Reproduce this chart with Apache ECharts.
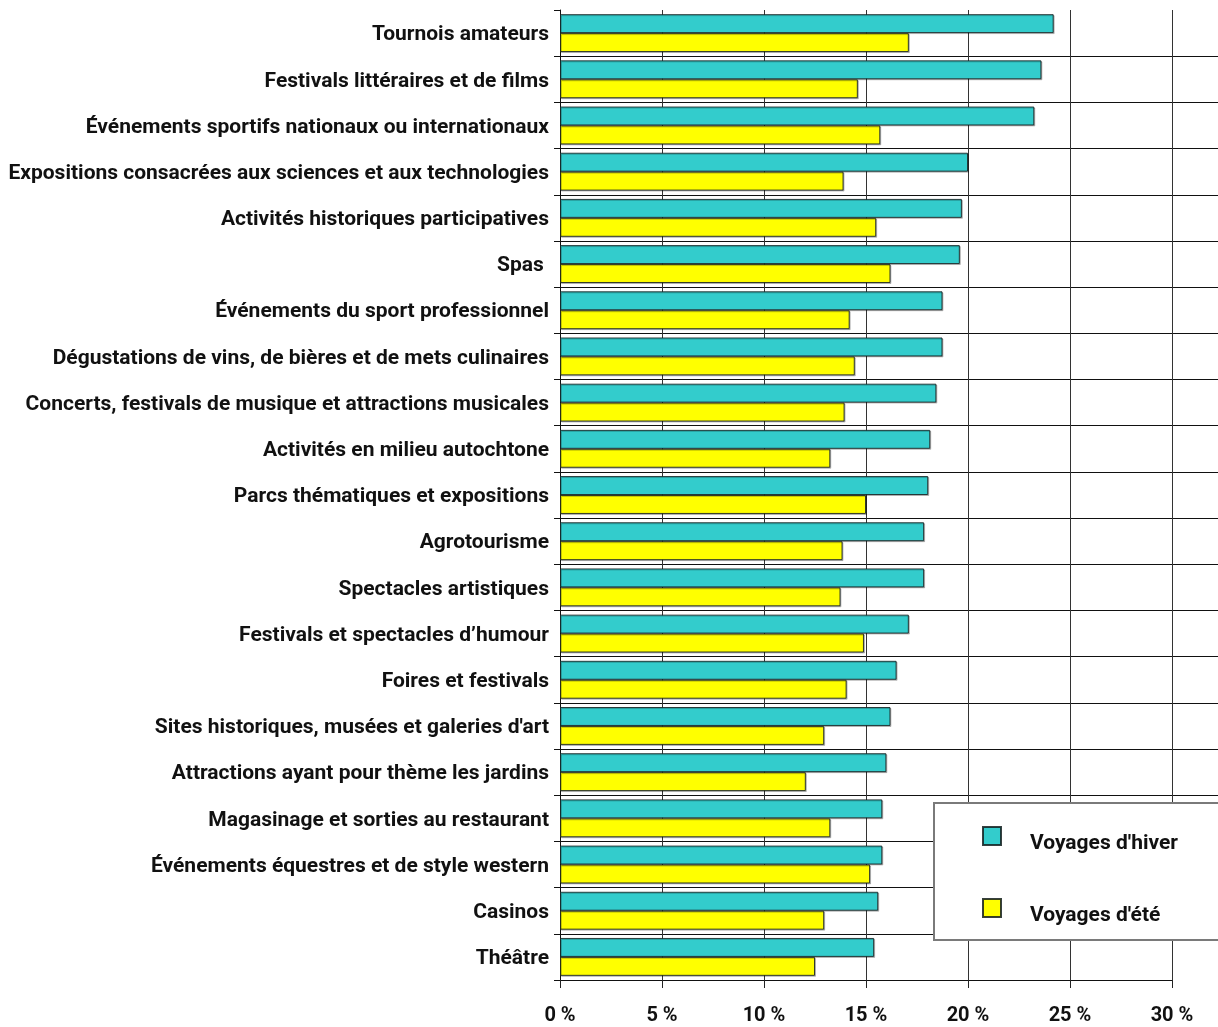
<!DOCTYPE html>
<html>
<head>
<meta charset="utf-8">
<script src="https://cdn.jsdelivr.net/npm/echarts@6/dist/echarts.min.js"></script>
<style>
  html, body { margin: 0; padding: 0; background: #fff; }
  #chart { width: 1218px; height: 1027px; }
</style>
</head>
<body>
<div id="chart"></div>
<script>
// Activity categories, listed top to bottom
const categories = [
  "Tournois amateurs",
  "Festivals littéraires et de films",
  "Événements sportifs nationaux ou internationaux",
  "Expositions consacrées aux sciences et aux technologies",
  "Activités historiques participatives",
  "Spas ",
  "Événements du sport professionnel",
  "Dégustations de vins, de bières et de mets culinaires",
  "Concerts, festivals de musique et attractions musicales",
  "Activités en milieu autochtone",
  "Parcs thématiques et expositions",
  "Agrotourisme",
  "Spectacles artistiques",
  "Festivals et spectacles d’humour",
  "Foires et festivals",
  "Sites historiques, musées et galeries d'art",
  "Attractions ayant pour thème les jardins",
  "Magasinage et sorties au restaurant",
  "Événements équestres et de style western",
  "Casinos",
  "Théâtre"
];

// Share of travellers (%)
const winterTrips = [24.2, 23.6, 23.25, 20.0, 19.7, 19.6, 18.75, 18.75, 18.45, 18.15, 18.05, 17.85, 17.85, 17.1, 16.5, 16.2, 16.0, 15.8, 15.8, 15.6, 15.4];
const summerTrips = [17.1, 14.6, 15.7, 13.9, 15.5, 16.2, 14.2, 14.45, 13.95, 13.25, 15.0, 13.85, 13.75, 14.9, 14.05, 12.95, 12.05, 13.25, 15.2, 12.95, 12.5];

const seriesNames = ["Voyages d'hiver", "Voyages d'été"];
const axisTicks = [0, 5, 10, 15, 20, 25, 30];

const FONT = 'Roboto, "Liberation Sans", sans-serif';

const chart = echarts.init(document.getElementById('chart'), null, { renderer: 'canvas' });

const barStyle = (color) => ({
  color: color,
  borderColor: 'rgba(20,30,30,0.85)',
  borderWidth: 1,
  shadowColor: 'rgba(0,0,0,0.25)',
  shadowOffsetX: 1,
  shadowOffsetY: 1,
  shadowBlur: 0
});

// label text sits a little low in its line box
const lowText = (size, lineH) => ({
  fontFamily: FONT,
  fontSize: size,
  fontWeight: 'bold',
  color: '#111',
  lineHeight: lineH,
  verticalAlign: 'bottom'
});

chart.setOption({
  animation: false,
  backgroundColor: '#ffffff',
  textStyle: { fontFamily: FONT },
  grid: [
    { left: 560, right: 46, top: 10, bottom: 47, containLabel: false, outerBoundsMode: 'none' },
    // narrow strip right of the plot so the row separators run to the edge
    { left: 1172, right: 0, top: 10, bottom: 47, containLabel: false, outerBoundsMode: 'none' }
  ],
  xAxis: [
    {
      type: 'value',
      gridIndex: 0,
      min: axisTicks[0],
      max: axisTicks[axisTicks.length - 1],
      interval: 5,
      axisLine: { show: false },
      axisTick: { show: true, length: 8, lineStyle: { color: '#222', width: 1 } },
      axisLabel: {
        margin: 26,
        fontFamily: FONT,
        fontSize: 20,
        fontWeight: 'bold',
        color: '#111',
        formatter: (v) => v + ' %'
      },
      splitLine: { show: true, lineStyle: { color: '#333', width: 1 } }
    },
    { type: 'value', gridIndex: 1, show: false, min: 0, max: 1 }
  ],
  yAxis: [
    {
      type: 'category',
      gridIndex: 0,
      data: categories,
      inverse: true,
      axisLine: { show: true, onZero: false, lineStyle: { color: '#111', width: 1 } },
      axisTick: { show: true, length: 6, lineStyle: { color: '#111', width: 1 } },
      axisLabel: {
        margin: 11,
        fontFamily: FONT,
        fontSize: 21,
        fontWeight: 'bold',
        color: '#111',
        formatter: (v) => '{t|' + v + '}',
        rich: { t: lowText(21, 25) }
      },
      splitLine: { show: true, showMinLine: false, lineStyle: { color: '#111', width: 1 } }
    },
    {
      type: 'category',
      gridIndex: 1,
      data: categories,
      inverse: true,
      axisLine: { show: false },
      axisTick: { show: false },
      axisLabel: { show: false },
      splitLine: { show: true, showMinLine: false, showMaxLine: false, lineStyle: { color: '#111', width: 1 } }
    }
  ],
  legend: {
    orient: 'vertical',
    left: 934,
    top: 803,
    padding: [23, 60, 14, 48],
    itemGap: 44,
    itemWidth: 18,
    itemHeight: 18,
    icon: 'rect',
    backgroundColor: '#ffffff',
    borderColor: '#7a7a7a',
    borderWidth: 2,
    textStyle: {
      fontFamily: FONT,
      fontSize: 21,
      fontWeight: 'bold',
      color: '#111',
      padding: [0, 0, 0, 24],
      rich: { t: lowText(21, 36) }
    },
    formatter: (name) => '{t|' + name + '}',
    data: seriesNames
  },
  series: [
    {
      name: seriesNames[0],
      type: 'bar',
      xAxisIndex: 0,
      yAxisIndex: 0,
      data: winterTrips,
      barGap: '0%',
      barCategoryGap: '18%',
      itemStyle: barStyle('#33CCCC')
    },
    {
      name: seriesNames[1],
      type: 'bar',
      xAxisIndex: 0,
      yAxisIndex: 0,
      data: summerTrips,
      barGap: '0%',
      barCategoryGap: '18%',
      itemStyle: barStyle('#FFFF00')
    }
  ]
});
</script>
</body>
</html>
